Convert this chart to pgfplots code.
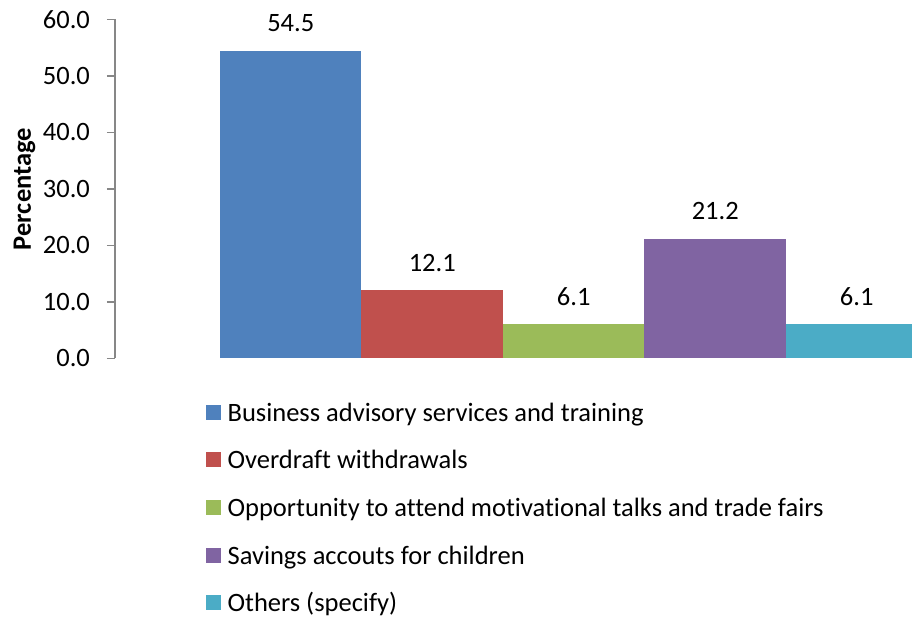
\documentclass[border=0pt]{standalone}
\usepackage{fontspec}
\setmainfont{Carlito}[Ligatures={NoCommon}]
\usepackage{pgfplots}
\pgfplotsset{compat=1.18}
\definecolor{c1}{HTML}{4F81BD}
\definecolor{c2}{HTML}{C0504D}
\definecolor{c3}{HTML}{9BBB59}
\definecolor{c4}{HTML}{8064A2}
\definecolor{c5}{HTML}{4BACC6}
\definecolor{axisgray}{HTML}{878787}
\newcommand{\fs}{\fontsize{13.25pt}{16pt}\selectfont}
\pgfplotsset{
  mybar/.style={ybar, bar width=141.5, bar shift=0pt, draw=none, fill=#1,
    legend image code/.code={\fill[#1] (0pt,-2.2pt) rectangle (7.3pt,5.3pt);}},
}
\begin{document}
\begin{tikzpicture}
\begin{axis}[
  x=0.5pt, y=2.825pt,
  xmin=115, xmax=912, ymin=0, ymax=60,
  axis x line=none, axis y line*=left,
  axis line style={draw=axisgray, line width=0.9pt},
  clip=true,
  ytick={0,10,...,60},
  tick align=outside, major tick length=4pt,
  tick style={draw=axisgray, line width=0.9pt},
  /pgf/number format/assume math mode=true,
  yticklabel style={/pgf/number format/.cd, fixed, fixed zerofill, precision=1, /tikz/.cd, font=\fs, text=black, xshift=-5pt},
  ylabel={\bfseries Percentage},
  ylabel style={at={(axis cs:31,30)}, anchor=base, font=\fs},
  nodes near coords={\pgfmathprintnumber[fixed,fixed zerofill,precision=1]{\pgfplotspointmeta}},
  every node near coord/.style={anchor=base, yshift=9.5pt, font=\fs, text=black},
  legend cell align=left,
  legend style={at={(axis cs:206,-7.9)}, anchor=north west, draw=none, inner sep=0pt, outer sep=0pt,
    font=\fs, row sep=11.85pt,
    nodes={inner sep=0pt, text height=9pt, text depth=3pt},
    /tikz/every odd column/.append style={column sep=3.5pt}},
]
\addplot[mybar=c1] coordinates {(290.75,54.5)};
\addlegendentry{Business advisory services and training}
\addplot[mybar=c2] coordinates {(432.25,12.1)};
\addlegendentry{Overdraft withdrawals}
\addplot[mybar=c3] coordinates {(573.75,6.1)};
\addlegendentry{Opportunity to attend motivational talks and trade fairs}
\addplot[mybar=c4] coordinates {(715.25,21.2)};
\addlegendentry{Savings accouts for children}
\addplot[mybar=c5] coordinates {(856.75,6.1)};
\addlegendentry{Others (specify)}
\coordinate (bl) at (axis cs:0,-46.28);
\coordinate (tr) at (axis cs:912,63.45);
\end{axis}
\pgfresetboundingbox
\useasboundingbox (bl) rectangle (tr);
\end{tikzpicture}
\end{document}
